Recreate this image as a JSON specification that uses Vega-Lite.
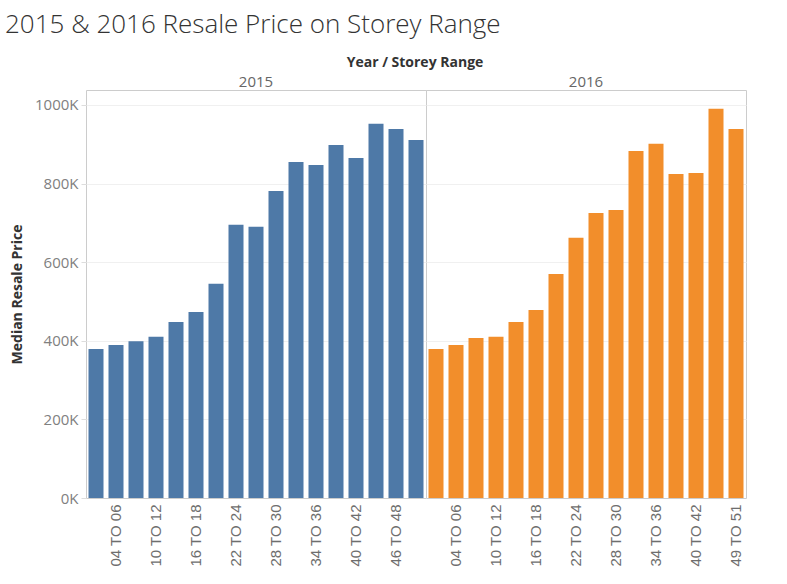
{
  "$schema": "https://vega.github.io/schema/vega-lite/v6.json",
  "background": "white",
  "padding": {"left": 5, "top": 11, "right": 5, "bottom": 5},
  "title": {
    "text": "2015 & 2016 Resale Price on Storey Range",
    "anchor": "start",
    "frame": "bounds",
    "font": "Open Sans",
    "fontWeight": 300,
    "fontSize": 26,
    "color": "#333333",
    "offset": 18,
    "dx": -5
  },
  "datasets": {
    "prices": [
      {"year": "2015", "storey": "01 TO 03", "price": 379000},
      {"year": "2015", "storey": "04 TO 06", "price": 389000},
      {"year": "2015", "storey": "07 TO 09", "price": 399000},
      {"year": "2015", "storey": "10 TO 12", "price": 410000},
      {"year": "2015", "storey": "13 TO 15", "price": 448000},
      {"year": "2015", "storey": "16 TO 18", "price": 473000},
      {"year": "2015", "storey": "19 TO 21", "price": 545000},
      {"year": "2015", "storey": "22 TO 24", "price": 695000},
      {"year": "2015", "storey": "25 TO 27", "price": 690000},
      {"year": "2015", "storey": "28 TO 30", "price": 781000},
      {"year": "2015", "storey": "31 TO 33", "price": 855000},
      {"year": "2015", "storey": "34 TO 36", "price": 847000},
      {"year": "2015", "storey": "37 TO 39", "price": 898000},
      {"year": "2015", "storey": "40 TO 42", "price": 865000},
      {"year": "2015", "storey": "43 TO 45", "price": 952000},
      {"year": "2015", "storey": "46 TO 48", "price": 939000},
      {"year": "2015", "storey": "49 TO 51", "price": 911000},
      {"year": "2016", "storey": "01 TO 03", "price": 379000},
      {"year": "2016", "storey": "04 TO 06", "price": 389000},
      {"year": "2016", "storey": "07 TO 09", "price": 407000},
      {"year": "2016", "storey": "10 TO 12", "price": 410000},
      {"year": "2016", "storey": "13 TO 15", "price": 448000},
      {"year": "2016", "storey": "16 TO 18", "price": 478000},
      {"year": "2016", "storey": "19 TO 21", "price": 570000},
      {"year": "2016", "storey": "22 TO 24", "price": 662000},
      {"year": "2016", "storey": "25 TO 27", "price": 725000},
      {"year": "2016", "storey": "28 TO 30", "price": 733000},
      {"year": "2016", "storey": "31 TO 33", "price": 883000},
      {"year": "2016", "storey": "34 TO 36", "price": 901000},
      {"year": "2016", "storey": "37 TO 39", "price": 824000},
      {"year": "2016", "storey": "40 TO 42", "price": 827000},
      {"year": "2016", "storey": "43 TO 45", "price": 990000},
      {"year": "2016", "storey": "49 TO 51", "price": 939000}
    ]
  },
  "vconcat": [
    {
      "title": {
        "text": "Year / Storey Range",
        "anchor": "middle",
        "frame": "group",
        "font": "Open Sans",
        "fontWeight": "bold",
        "fontSize": 14,
        "color": "#333333",
        "dx": 329,
        "offset": 5
      },
      "spacing": 0,
      "bounds": "flush",
      "hconcat": [
        {
          "title": {"text": "2015", "font": "Open Sans", "fontSize": 15, "fontWeight": "normal", "color": "#666666", "anchor": "middle", "offset": 0},
          "data": {"name": "prices"},
          "transform": [{"filter": "datum.year == '2015'"}],
          "width": {"step": 20},
          "height": 408,
          "mark": {"type": "bar", "color": "#4e79a7"},
          "encoding": {
            "x": {
              "field": "storey", "type": "nominal", "sort": null,
              "scale": {"paddingInner": 0.25, "paddingOuter": 0.125},
              "axis": {
                "title": null, "labelAngle": -90, "labelAlign": "right", "labelBaseline": "middle",
                "labelFont": "Liberation Sans", "labelFontSize": 15, "labelColor": "#6e6e6e",
                "labelPadding": 6, "ticks": false, "domainColor": "#cccccc",
                "labelExpr": "indexof(['04 TO 06','10 TO 12','16 TO 18','22 TO 24','28 TO 30','34 TO 36','40 TO 42','46 TO 48'], datum.value) >= 0 ? datum.label : ''"
              }
            },
            "y": {
              "field": "price", "type": "quantitative",
              "scale": {"domain": [0, 1038000], "nice": false},
              "axis": {
                "title": "Median Resale Price", "titleFont": "Open Sans", "titleFontSize": 14, "titleFontWeight": "bold", "titleColor": "#333333",
                "titlePadding": 10,
                "values": [0, 200000, 400000, 600000, 800000, 1000000],
                "labelExpr": "(datum.value/1000) + 'K'",
                "labelFont": "Open Sans", "labelFontSize": 15, "labelColor": "#808080", "labelPadding": 3,
                "tickColor": "#dddddd", "tickSize": 5, "gridColor": "#f0f0f0", "domain": false
              }
            }
          }
        },
        {
          "title": {"text": "2016", "font": "Open Sans", "fontSize": 15, "fontWeight": "normal", "color": "#666666", "anchor": "middle", "offset": 0},
          "data": {"name": "prices"},
          "transform": [{"filter": "datum.year == '2016'"}],
          "width": {"step": 20},
          "height": 408,
          "mark": {"type": "bar", "color": "#f28e2b"},
          "encoding": {
            "x": {
              "field": "storey", "type": "nominal", "sort": null,
              "scale": {"paddingInner": 0.25, "paddingOuter": 0.125},
              "axis": {
                "title": null, "labelAngle": -90, "labelAlign": "right", "labelBaseline": "middle",
                "labelFont": "Liberation Sans", "labelFontSize": 15, "labelColor": "#6e6e6e",
                "labelPadding": 6, "ticks": false, "domainColor": "#cccccc",
                "labelExpr": "indexof(['04 TO 06','10 TO 12','16 TO 18','22 TO 24','28 TO 30','34 TO 36','40 TO 42','49 TO 51'], datum.value) >= 0 ? datum.label : ''"
              }
            },
            "y": {
              "field": "price", "type": "quantitative",
              "scale": {"domain": [0, 1038000], "nice": false},
              "axis": {
                "title": null, "labels": false, "ticks": false, "domain": false,
                "values": [0, 200000, 400000, 600000, 800000, 1000000],
                "gridColor": "#f0f0f0"
              }
            }
          }
        }
      ]
    }
  ],
  "config": {
    "view": {"stroke": "#cccccc"},
    "concat": {"spacing": 0}
  }
}
